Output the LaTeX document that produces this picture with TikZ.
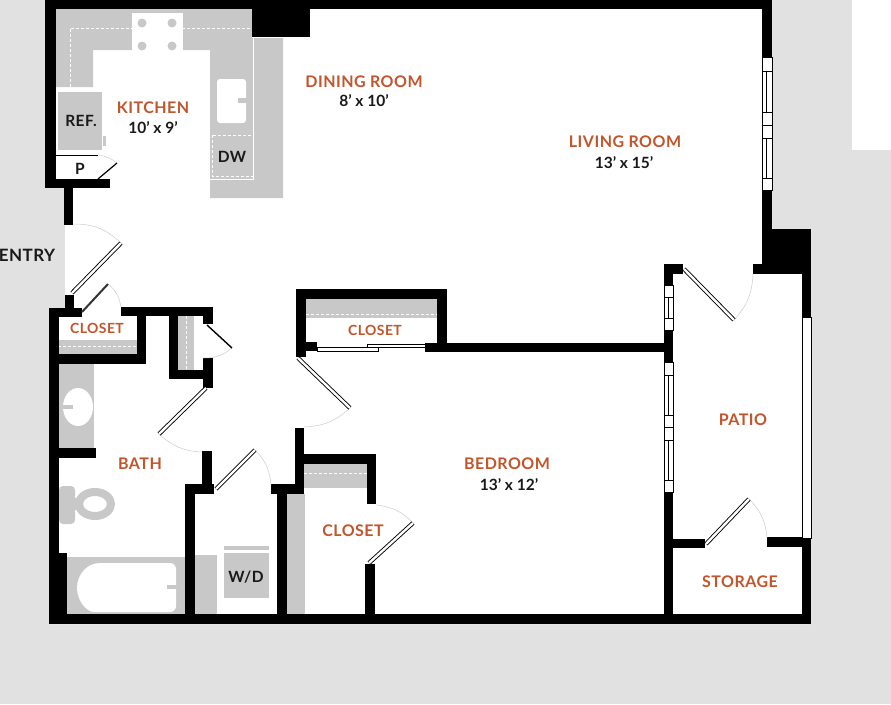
\documentclass[tikz,border=0pt]{standalone}
\usepackage{fontspec}
\setmainfont{Lato}
\usepackage{xcolor}
\definecolor{outside}{HTML}{E1E1E1}
\definecolor{fixture}{HTML}{C8C8C8}
\definecolor{roomtext}{HTML}{C2552B}
\tikzset{
   wall/.style={fill=black},
   fixture/.style={fill=fixture},
   dashline/.style={draw=white, dashed, dash pattern=on 3pt off 2pt, line width=0.9pt},
   leaf/.style={draw=black, double=white, line width=0.9pt, double distance=2.4pt},
   swing/.style={draw=black!20, line width=0.5pt},
   pane/.style={draw=black, fill=white, line width=0.6pt},
   roomname/.style={font=\fontsize{16}{16}\selectfont\addfontfeature{LetterSpace=3}\bfseries, text=roomtext, inner sep=0pt, yshift=-0.8pt},
   smallname/.style={roomname, font=\fontsize{14}{14}\selectfont\addfontfeature{LetterSpace=3}\bfseries},
   roomsize/.style={font=\fontsize{15.5}{16}\selectfont\bfseries, text=black!90, inner sep=0pt, yshift=-0.8pt},
   itemname/.style={font=\fontsize{15.5}{16}\selectfont\addfontfeature{LetterSpace=3}\bfseries, text=black!90, inner sep=0pt, yshift=-0.8pt},
}
\begin{document}
\begin{tikzpicture}[x=1pt,y=-1pt]
    \useasboundingbox (0,0) rectangle (891,704);
    \fill[outside] (0,0) rectangle (891,704);
    \fill[white] (852,0) rectangle (891,150);
    \fill[white] (45,0) -- (772,0) -- (772,229) -- (811,229) -- (811,624) -- (49,624)
        -- (49,308) -- (65,308) -- (65,188) -- (45,188) -- cycle;
    % kitchen
    \fill[fixture] (56,9) -- (252,9) -- (252,38) -- (283,38) -- (283,198) -- (210,198)
        -- (210,50) -- (93,50) -- (93,87) -- (56,87) -- cycle;
    \draw[white, line width=0.7pt] (253.5,38) -- (253.5,179) -- (210,179);
    \draw[dashline] (70,87) -- (70,28) -- (132,28) (182,28) -- (252,28);
    \draw[white, fill=white] (132,13) rectangle (182,54);
    \foreach \bx in {142,172} \foreach \by in {23,46}
        \fill[fixture] (\bx,\by) circle (4.5);
    \fill[white, rounded corners=3pt] (217,79) rectangle (246,123);
    \fill[fixture] (238,98) rectangle (249,103);
    \draw[dashline] (212,135) rectangle (253,176);
    \fill[fixture] (58,92) rectangle (102,150);
    \fill[fixture] (103,136) rectangle (106,146);
    \draw[line width=0.8pt] (56,155) -- (98,155);
    \draw[swing] (98,155) to[bend left=15] (117,163);
    \draw[line width=1.2pt] (117,163) -- (98,179);
    % bath
    \fill[fixture] (59,364) rectangle (94,448);
    \fill[white] (78,407) ellipse (15 and 19);
    \fill[fixture] (63,405) rectangle (73,409);
    \fill[fixture, rounded corners=4pt] (59,486) rectangle (75,524);
    \draw[draw=fixture, line width=8pt] (95,504) ellipse (16 and 12);
    \fill[fixture] (70,498) rectangle (82,510);
    \fill[fixture] (67,557) rectangle (185,614);
    \fill[white, rounded corners=6pt] (100,563) -- (176,563) -- (176,612) -- (100,612)
        [sharp corners] to[out=180, in=270] (77,588) to[out=90, in=180] (100,563) -- cycle;
    \fill[fixture] (167,585) rectangle (177,589);
    \fill[fixture] (195,555) rectangle (217,614);
    \fill[fixture] (224,553) rectangle (269,598);
    \fill[fixture] (224,546) rectangle (269,550);
    % closets
    \fill[fixture] (58,340) rectangle (137,354);
    \draw[dashline] (58,346) -- (137,346);
    \fill[fixture] (178,316) rectangle (194,370);
    \draw[dashline] (186,316) -- (186,370);
    \fill[fixture] (306,299) rectangle (437,318);
    \draw[dashline] (306,314) -- (437,314);
    \fill[fixture] (304,464) rectangle (367,488);
    \draw[dashline] (304,473) -- (367,473);
    \fill[fixture] (287,494) rectangle (305,614);
    % walls
    \foreach \xa/\ya/\xb/\yb in {
        45/0/772/9, 45/0/56/188, 45/179/110/188, 64/188/73/225, 252/0/310/37,
        65/295/74/308, 49/308/82/317, 121/307/213/316, 137/316/146/364, 49/354/146/364,
        49/308/59/624, 169/316/178/379, 169/370/213/379, 203/316/213/324, 203/358/213/388,
        59/448/96/458, 59/553/67/614, 202/451/212/485, 185/484/214/494, 185/484/195/624,
        271/484/304/494, 277/494/287/624, 295/428/304/494, 295/454/376/464, 367/454/376/504,
        365/564/375/624, 296/289/306/357, 296/289/447/299, 437/289/447/352, 306/342/317/351,
        425/343/664/352, 49/614/811/624, 762/0/772/57, 762/190/772/264, 762/229/811/274,
        753/264/772/274, 802/274/811/317, 802/538/811/624, 767/537/811/547, 672/539/705/548,
        664/264/683/274, 664/264/673/285, 664/330/673/362, 664/492/673/624}
        \fill[wall] (\xa,\ya) rectangle (\xb,\yb);
    % sliding doors and glass
    \draw[pane] (317,347) rectangle (378,351);
    \draw[pane] (367,344) rectangle (425,347);
    \draw[pane] (802,317) rectangle (811,538);
    % windows
    \foreach \ya/\yb in {57/71, 112/125, 125/138, 178/190}
        \draw[pane] (762,\ya) rectangle (772,\yb);
    \foreach \ya/\yb in {71/112, 138/178}
        {\draw[pane] (762,\ya) rectangle (772,\yb);
         \draw[line width=0.6pt] (766.5,\ya) -- (766.5,\yb);}
    \foreach \ya/\yb in {285/297, 318/330, 362/375, 415/427, 427/440, 480/492}
        \draw[pane] (664,\ya) rectangle (673,\yb);
    \foreach \ya/\yb in {297/318, 375/415, 440/480}
        {\draw[pane] (664,\ya) rectangle (673,\yb);
         \draw[line width=0.6pt] (668.5,\ya) -- (668.5,\yb);}
    % doors
    \draw[swing] (73,224) to[bend left=22] (121,243);
    \draw[leaf] (72,293) -- (121,243);
    \draw[swing] (108,284) to[bend left=20] (121,307);
    \draw[draw=black!80, line width=2pt] (82,312) -- (108,284);
    \draw[swing] (232,348) to[bend left=20] (203,358);
    \draw[line width=1.4pt] (207,325) -- (232,348);
    \draw[swing] (159,434) to[bend right=20] (202,452);
    \draw[leaf] (206,388) -- (159,434);
    \draw[swing] (255,450) to[bend left=20] (271,485);
    \draw[leaf] (216,489) -- (255,450);
    \draw[swing] (350,408) to[bend left=20] (304,427);
    \draw[leaf] (298,358) -- (350,408);
    \draw[swing] (376,505) to[bend left=20] (413,523);
    \draw[leaf] (369,563) -- (413,523);
    \draw[swing] (734,320) to[bend right=20] (753,274);
    \draw[leaf] (684,269) -- (734,320);
    \draw[swing] (749,499) to[bend left=20] (767,538);
    \draw[leaf] (706,544) -- (749,499);
    % labels
    \node[roomname] (dining) at (364,81) {DINING ROOM};
    \node[roomsize] (diningsize) at (364,100) {8’ x 10’};
    \node[roomname] (kitchen) at (153,107) {KITCHEN};
    \node[roomsize] (kitchensize) at (153,127) {10’ x 9’};
    \node[roomname] (living) at (625,141) {LIVING ROOM};
    \node[roomsize] (livingsize) at (624,162) {13’ x  15’};
    \node[smallname] (closeta) at (97,328) {CLOSET};
    \node[smallname] (closetb) at (375,330) {CLOSET};
    \node[roomname] (closetc) at (353,530) {CLOSET};
    \node[roomname] (bath) at (140,463) {BATH};
    \node[roomname] (bedroom) at (507,463) {BEDROOM};
    \node[roomsize] (bedroomsize) at (509,484) {13’ x 12’};
    \node[roomname] (patio) at (743,419) {PATIO};
    \node[roomname] (storage) at (740,581) {STORAGE};
    \node[itemname] (ref) at (81,120) {REF.};
    \node[itemname] (pantry) at (80,168) {P};
    \node[itemname] (dw) at (232,156) {DW};
    \node[itemname, font=\fontsize{17}{17}\selectfont\addfontfeature{LetterSpace=3}\bfseries] (entry) at (27,255) {ENTRY};
    \node[itemname] (wd) at (246,576) {W/D};
\end{tikzpicture}
\end{document}
